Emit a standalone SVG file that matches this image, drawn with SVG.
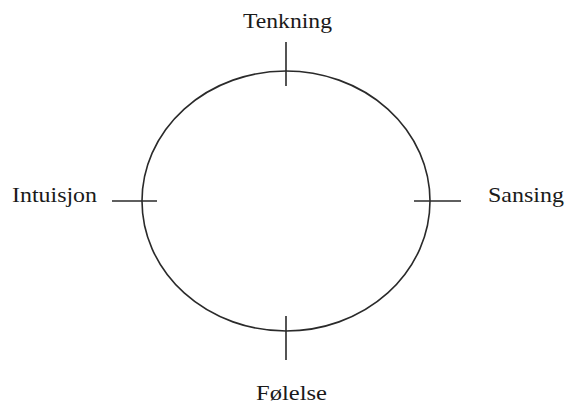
<svg xmlns="http://www.w3.org/2000/svg" width="567" height="405" viewBox="0 0 567 405">
<style>
.l{fill:none;stroke:#2a2a2a;stroke-width:1.6}
.t{font-family:"Liberation Serif","Times New Roman",serif;font-size:21px;fill:#1a1a1a}
</style>
<rect width="567" height="405" fill="#fff"/>
<g id="circle"><ellipse class="l" cx="286" cy="201" rx="144" ry="130"/></g>
<g id="connectors">
<line class="l" x1="286" y1="42" x2="286" y2="86"/>
<line class="l" x1="112" y1="201" x2="157" y2="201"/>
<line class="l" x1="414" y1="201" x2="461" y2="201"/>
<line class="l" x1="286" y1="316" x2="286" y2="360"/>
</g>
<g id="tenkning"><text class="t" x="243" y="28" textLength="89" lengthAdjust="spacingAndGlyphs">Tenkning</text></g>
<g id="intuisjon"><text class="t" x="12" y="202" textLength="85" lengthAdjust="spacingAndGlyphs">Intuisjon</text></g>
<g id="sansing"><text class="t" x="488" y="202" textLength="76" lengthAdjust="spacingAndGlyphs">Sansing</text></g>
<g id="folelse"><text class="t" x="256" y="400" textLength="71" lengthAdjust="spacingAndGlyphs">Følelse</text></g>
</svg>
